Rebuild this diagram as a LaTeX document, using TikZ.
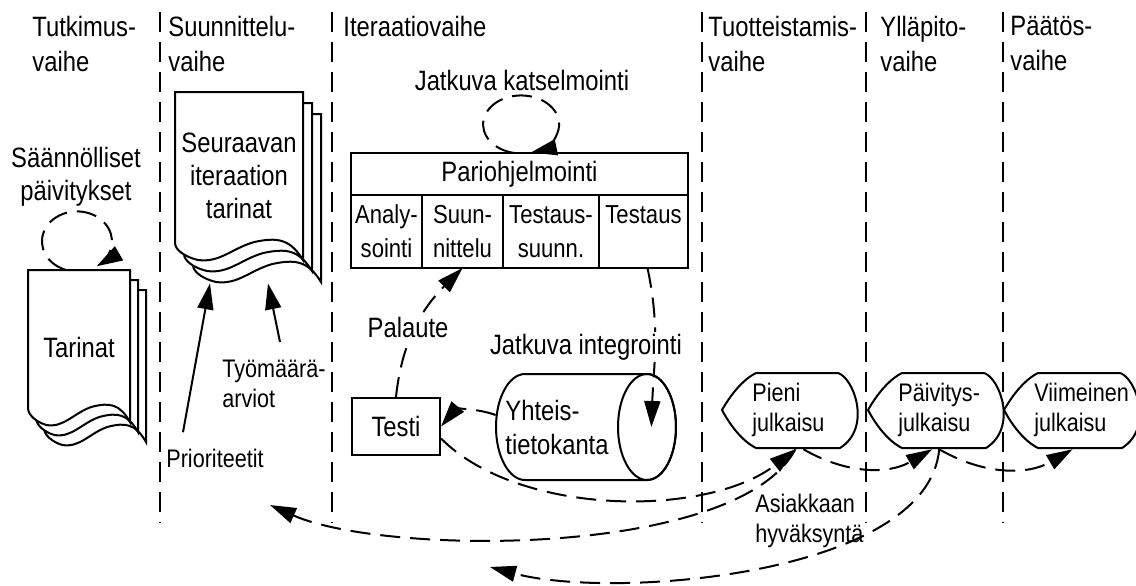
\documentclass[tikz,border=0pt]{standalone}
\usepackage{fontspec}
\setmainfont[FakeStretch=0.85]{Liberation Sans}
\usetikzlibrary{arrows.meta,positioning}

% one page of a story stack: x, y, width, left height, right height (image px)
\newcommand{\storypage}[5]{%
  \draw[box line, fill=white] ({#1},{-(#2)}) -- ({#1+#3},{-(#2)}) -- ({#1+#3},{-(#2+#5)})
    .. controls ({#1+0.9*#3},{-(#2+#4-4)}) and ({#1+0.8*#3},{-(#2+#4-6)}) .. ({#1+0.62*#3},{-(#2+#4-1)})
    .. controls ({#1+0.45*#3},{-(#2+#4+5)}) and ({#1+0.35*#3},{-(#2+#4+20)}) .. ({#1+0.18*#3},{-(#2+#4+17)})
    .. controls ({#1+0.08*#3},{-(#2+#4+14)}) and ({#1},{-(#2+#4+7)}) .. ({#1},{-(#2+#4)}) -- cycle;
}
% three pages, back to front, and the named text node
\newcommand{\storystack}[9]{%
  \storypage{#2+2*#7}{#3+2*#8}{#4}{#5}{#6}
  \storypage{#2+#7}{#3+#8}{#4}{#5}{#6}
  \storypage{#2}{#3}{#4}{#5}{#6}
  \node[story text, minimum width={0.5*#4}, minimum height={0.5*#5}] (#1) at ({#2+#4/2},{-(#3+#5/2+8)}) {#9};
}
% release shape: name, x of the left point, text
\newcommand{\release}[3]{%
  \draw[box line, fill=white] ({#2},-410) .. controls ({#2+8},-396) and ({#2+20},-380) .. ({#2+34},-373)
    -- ({#2+116},-373) .. controls ({#2+132},-378) and ({#2+150},-428) .. ({#2+118},-448)
    -- ({#2+34},-448) .. controls ({#2+20},-441) and ({#2+8},-425) .. cycle;
  \node[release text] (#1) at ({#2+30},-410) {#3};
}

\begin{document}
\begin{tikzpicture}[
    x=0.5pt, y=0.5pt,
    every node/.style={font=\fontsize{14}{16.5}\selectfont},
    box line/.style={draw=black, line width=1pt},
    head/.style={anchor=north west, align=left, inner sep=0pt, font=\fontsize{14}{17.5}\selectfont},
    phase line/.style={line width=1pt, dash pattern=on 10pt off 5pt},
    story text/.style={align=center, inner sep=0pt},
    pario box/.style={box line, outer sep=0pt, minimum width=168.5pt, minimum height=21pt, inner sep=0pt},
    col box/.style={box line, outer sep=0pt, minimum height=36.5pt, inner sep=0pt, align=center, font=\fontsize{13}{17}\selectfont},
    test box/.style={box line, minimum width=44pt, minimum height=28.5pt, inner sep=0pt},
    db node/.style={minimum width=61pt, minimum height=53pt, inner sep=0pt, align=left, font=\fontsize{14}{17}\selectfont},
    release text/.style={anchor=west, align=left, inner xsep=0pt, inner ysep=6pt, font=\fontsize{12.7}{15}\selectfont},
    small label/.style={inner sep=1pt, font=\fontsize{12.7}{15}\selectfont},
    dash arrow/.style={line width=1pt, dash pattern=on 10pt off 5pt, -{Triangle[length=13pt,width=8pt]}},
    solid arrow/.style={line width=1pt, -{Triangle[length=13pt,width=8pt]}}
]
\useasboundingbox[fill=white] (0,0) rectangle (1136,-585);

% vaiheiden rajat
\foreach \x in {160,332,702,866,1003}
  \draw[phase line] (\x,-12) -- (\x,-523);

% vaiheiden otsikot
\node[head] (tutkimus) at (32,-16) {Tutkimus-\\vaihe};
\node[head] (suunnitteluvaihe) at (168,-16) {Suunnittelu-\\vaihe};
\node[head] (iteraatio) at (343,-16) {Iteraatiovaihe};
\node[head] (tuotteistamis) at (708,-16) {Tuotteistamis-\\vaihe};
\node[head] (yllapito) at (880,-16) {Ylläpito-\\vaihe};
\node[head] (paatos) at (1010,-16) {Päätös-\\vaihe};

% tarinapinot
\storystack{tarinat}{28}{270}{102}{138}{152}{8}{10}{Tarinat}
\storystack{seuraava}{175}{92}{128}{151}{168}{9}{11}{Seuraavan\\iteraation\\tarinat}

% pariohjelmointi
\node[pario box] (pario) at (519.5,-174) {Pariohjelmointi};
\node[col box, minimum width=35.5pt, anchor=north west] (analyysi) at (pario.south west) {Analy-\\sointi};
\node[col box, minimum width=40.5pt, right=0pt of analyysi] (suunnittelu) {Suun-\\nittelu};
\node[col box, minimum width=48pt, right=0pt of suunnittelu] (testsuunn) {Testaus-\\suunn.};
\node[col box, minimum width=44.5pt, right=0pt of testsuunn] (testaus) {Testaus\\\phantom{Testaus}};

\node[test box] (testi) at (396,-426.5) {Testi};

% yhteistietokanta (sylinteri)
\draw[box line, fill=white] (525,-374) -- (647,-374) arc[start angle=90, end angle=-90, x radius=29, y radius=53]
  -- (525,-480) arc[start angle=270, end angle=90, x radius=29, y radius=53] -- cycle;
\draw[box line] (647,-427) ellipse[x radius=29, y radius=53];
\node[db node] (tietokanta) at (557,-427) {Yhteis-\\tietokanta};

% julkaisut
\release{pieni}{722}{Pieni\\julkaisu}
\release{paivitys}{868}{Päivitys-\\julkaisu}
\release{viimeinen}{1004}{Viimeinen\\julkaisu}

% tekstit
\node (paivitykset) [align=center, anchor=north, inner sep=0pt] at (76,-147) {Säännölliset\\päivitykset};
\node (katselmointi) [anchor=base] at (522,-90) {Jatkuva katselmointi};
\node[small label, anchor=base] (prio) at (215,-467) {Prioriteetit};
\node[small label, anchor=north west, align=left, inner sep=0pt] (arviot) at (222,-360) {Työmäärä-\\arviot};
\node[small label, anchor=north west, align=left, inner sep=0pt] (hyvaksynta) at (755,-494) {Asiakkaan\\hyväksyntä};
\coordinate (suunnittelu end) at (270,-505);
\coordinate (hyvaksynta end) at (490,-567);

% silmukat
\draw[dash arrow] ([shift={(-7pt,4pt)}]tarinat.north) arc[start angle=250, end angle=-56, x radius=35, y radius=30];
\draw[dash arrow] ([xshift=-2.5pt]pario.north) arc[start angle=260, end angle=-75, x radius=38, y radius=29];

% nuolet
\draw[solid arrow] ([shift={(-16pt,7pt)}]prio.north) -- ([shift={(-14.5pt,-16pt)}]seuraava.south);
\draw[solid arrow] ([shift={(3pt,9pt)}]arviot.north) -- ([shift={(14.5pt,-16pt)}]seuraava.south);
\draw[dash arrow] (testi.north) to[out=84, in=-135] (suunnittelu.south);
\draw[dash arrow] ([xshift=2pt]testaus.south) to[out=-78, in=88] ([xshift=16.5pt]tietokanta.east);
\draw[dash arrow] ([yshift=6pt]tietokanta.west) to[out=160, in=50] (testi.east);
\draw[dash arrow] ([yshift=-6pt]testi.east) to[out=-45, in=-142, looseness=0.8] ([xshift=3.5pt]pieni.south);
\draw[dash arrow] ([xshift=3.5pt]pieni.south) to[out=-118, in=-24, looseness=0.6] (suunnittelu end);
\draw[dash arrow] ([xshift=7.5pt]pieni.south) to[out=-30, in=-150] ([xshift=-3.5pt]paivitys.south);
\draw[dash arrow] (paivitys.south) to[out=-30, in=-150] ([xshift=-4.5pt]viimeinen.south);
\draw[dash arrow] (paivitys.south) to[out=-95, in=-15, looseness=0.7] (hyvaksynta end);

% viivan päälle tulevat tekstit
\node (palaute) [anchor=base, fill=white, inner sep=1pt] at (408,-337) {Palaute};
\node (integrointi) [anchor=base, fill=white, inner sep=1pt] at (586,-354) {Jatkuva integrointi};

\end{tikzpicture}
\end{document}
